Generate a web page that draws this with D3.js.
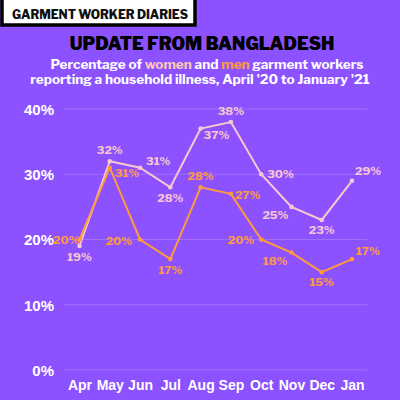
<!DOCTYPE html>
<html>
<head>
<meta charset="utf-8">
<script src="https://cdn.jsdelivr.net/npm/d3@7"></script>
<style>
  html, body { margin: 0; padding: 0; background: #8c52ff; }
  svg { display: block; font-family: "Libre Franklin", "Lato", "Noto Sans", sans-serif; }
</style>
</head>
<body>
<div class="canvas"></div>
<script>
const months = ["Apr", "May", "Jun", "Jul", "Aug", "Sep", "Oct", "Nov", "Dec", "Jan"];
const women = [19, 32, 31, 28, 37, 38, 30, 25, 23, 29];
const men = [20, 31, 20, 17, 28, 27, 20, 18, 15, 17];
const yTicks = [0, 10, 20, 30, 40];
// label placement per point: [dx, dy, anchor]
const womenLabelPos = [
  [0, 15, "middle"], [0, -7, "middle"], [6, -3, "start"], [0, 15, "middle"], [3, 10, "start"],
  [0, -7, "middle"], [6, 4, "start"], [-3, 12, "end"], [0, 14, "middle"], [3, -6, "start"]
];
const menLabelPos = [
  [0, 4, "end"], [5, 9, "start"], [-8, 5, "end"], [0, 15, "middle"], [0, -7, "middle"],
  [4, 5, "start"], [-7, 4, "end"], [-4, 12, "end"], [0, 14, "middle"], [4, -4, "start"]
];

const width = 400;
const height = 400;
const pink = "#f7c8cf";
const orange = "#ff9a3d";

const svg = d3.select(".canvas").append("svg")
  .attr("width", width)
  .attr("height", height);

svg.append("rect").attr("width", width).attr("height", height).attr("fill", "#8c52ff");

// header badge
svg.append("rect")
  .attr("x", 2).attr("y", -2).attr("width", 193).attr("height", 27)
  .attr("fill", "#fff").attr("stroke", "#000").attr("stroke-width", 3.5);
svg.append("text")
  .attr("x", 12).attr("y", 18.5)
  .attr("font-size", 12).attr("font-weight", 800)
  .attr("textLength", 176).attr("lengthAdjust", "spacing")
  .attr("fill", "#111")
  .text("GARMENT WORKER DIARIES");

svg.append("text")
  .attr("x", 202).attr("y", 50)
  .attr("text-anchor", "middle")
  .attr("font-size", 17.5).attr("font-weight", 900)
  .attr("fill", "#000")
  .text("UPDATE FROM BANGLADESH");

const sub1 = svg.append("text")
  .attr("x", 207).attr("y", 69)
  .attr("text-anchor", "middle")
  .attr("font-size", 13.5).attr("font-weight", 700)
  .attr("fill", "#fff");
sub1.append("tspan").text("Percentage of ");
sub1.append("tspan").attr("fill", "#ffc9b5").text("women");
sub1.append("tspan").text(" and ");
sub1.append("tspan").attr("fill", orange).text("men");
sub1.append("tspan").text(" garment workers");

svg.append("text")
  .attr("x", 200).attr("y", 84)
  .attr("text-anchor", "middle")
  .attr("font-size", 13.5).attr("font-weight", 700)
  .attr("fill", "#fff")
  .text("reporting a household illness, April '20 to January '21");

const x = d3.scalePoint().domain(months).range([79.5, 352]);
const y = d3.scaleLinear().domain([0, 40]).range([370, 109]);

// grid
svg.append("g")
  .selectAll("line")
  .data(yTicks)
  .enter()
  .append("line")
  .attr("x1", 64).attr("x2", 367)
  .attr("y1", (d) => y(d)).attr("y2", (d) => y(d))
  .attr("stroke", "rgba(255,255,255,0.18)")
  .attr("stroke-width", 1);

const yAxis = d3.axisLeft(y).tickValues(yTicks).tickFormat((d) => d + "%").tickSize(0).tickPadding(0);
svg.append("g")
  .attr("transform", "translate(54,0)")
  .call(yAxis)
  .call((g) => g.select(".domain").remove())
  .selectAll("text")
  .attr("font-size", 15).attr("font-weight", 700)
  .attr("font-family", "inherit")
  .attr("fill", "#fff")
  .attr("dy", "0.35em");

const xAxis = d3.axisBottom(x).tickSize(0).tickPadding(0);
svg.append("g")
  .attr("transform", "translate(0,380)")
  .call(xAxis)
  .call((g) => g.select(".domain").remove())
  .selectAll("text")
  .attr("font-size", 14).attr("font-weight", 700)
  .attr("font-family", "inherit")
  .attr("fill", "#fff")
  .attr("dy", "0.71em");

const line = d3.line().x((d, i) => x(months[i])).y((d) => y(d));

function drawSeries(values, color, labelPos) {
  const g = svg.append("g");
  g.append("path")
    .datum(values)
    .attr("d", line)
    .attr("fill", "none")
    .attr("stroke", color)
    .attr("stroke-width", 2);
  g.selectAll("circle")
    .data(values)
    .enter()
    .append("circle")
    .attr("cx", (d, i) => x(months[i]))
    .attr("cy", (d) => y(d))
    .attr("r", 2.3)
    .attr("fill", color);
  g.selectAll("text")
    .data(values)
    .enter()
    .append("text")
    .attr("x", (d, i) => x(months[i]) + labelPos[i][0])
    .attr("y", (d, i) => y(d) + labelPos[i][1])
    .attr("text-anchor", (d, i) => labelPos[i][2])
    .attr("font-size", 11.5).attr("font-weight", 700)
    .attr("fill", color)
    .text((d) => d + "%");
}

drawSeries(women, pink, womenLabelPos);
drawSeries(men, orange, menLabelPos);
</script>
</body>
</html>
